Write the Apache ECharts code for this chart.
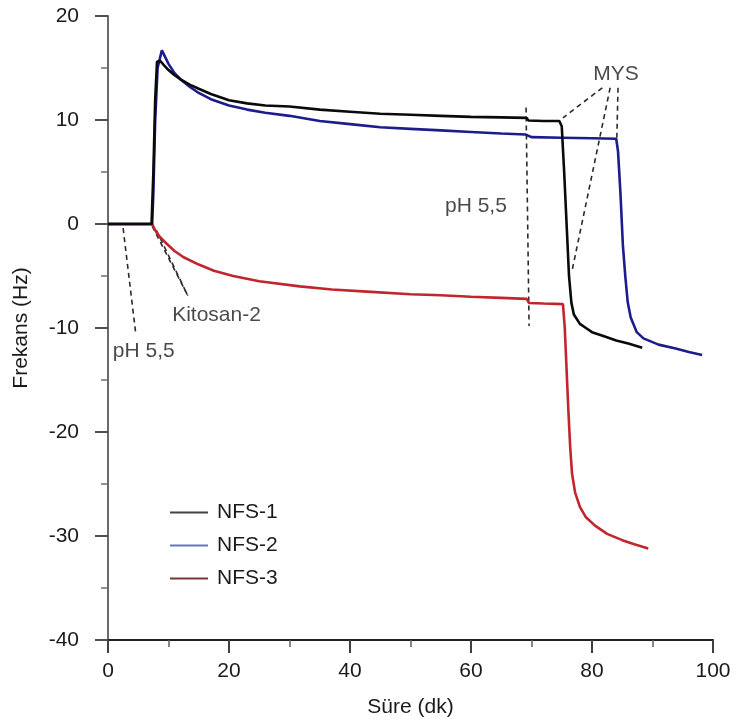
<!DOCTYPE html>
<html>
<head>
<meta charset="utf-8">
<script src="https://cdn.jsdelivr.net/npm/echarts@6/dist/echarts.min.js"></script>
<style>
html,body{margin:0;padding:0;background:#fff;}
#chart{width:738px;height:728px;}
</style>
</head>
<body>
<div id="chart"></div>
<script>
// ---- data ----
const seriesNames = ['NFS-1', 'NFS-2', 'NFS-3'];

const nfs1X = [0, 7.2, 7.5, 7.8, 8.1, 8.6, 9.2, 10, 11, 12, 13.5, 15, 17, 20, 23, 26, 30, 35, 40, 45, 50, 55, 60, 65, 69.2, 69.5, 72, 74.6, 75.0, 75.4, 75.8, 76.2, 76.6, 77, 78, 79, 80, 82, 84, 86, 88.3];
const nfs1Y = [0, 0, 5, 12, 15.6, 15.7, 15.3, 14.8, 14.3, 13.9, 13.4, 13.0, 12.5, 11.9, 11.6, 11.4, 11.3, 11.0, 10.8, 10.6, 10.5, 10.4, 10.3, 10.25, 10.2, 9.95, 9.9, 9.9, 9.4, 5, 0, -5, -7.6, -8.7, -9.6, -10.0, -10.4, -10.8, -11.2, -11.5, -11.9];

const nfs2X = [0, 7.3, 7.5, 7.8, 8.2, 8.9, 9.5, 10, 11, 12, 13.5, 15, 17, 20, 23, 26, 30, 35, 40, 45, 50, 55, 60, 65, 69, 70, 75, 80, 84.0, 84.3, 84.7, 85.1, 85.5, 85.9, 86.4, 87.4, 88.5, 91, 94, 96, 98.2];
const nfs2Y = [0, 0, 3, 10, 15, 16.7, 16.0, 15.4, 14.5, 13.9, 13.2, 12.6, 12.0, 11.4, 11.0, 10.7, 10.4, 9.9, 9.6, 9.3, 9.15, 9.0, 8.85, 8.7, 8.6, 8.35, 8.3, 8.25, 8.2, 7, 3, -2, -5, -7.5, -9, -10.4, -11.0, -11.6, -12.0, -12.3, -12.6];

const nfs3X = [0, 7.3, 7.8, 8.5, 9.7, 11, 12.5, 15, 17.5, 20.7, 25, 31.7, 37, 42.8, 50, 55, 60, 65, 69.2, 69.6, 72, 75.2, 75.5, 75.8, 76.1, 76.4, 76.7, 77.2, 78, 79, 80.5, 82.5, 85, 87, 89.3];
const nfs3Y = [0, 0, -0.6, -1.2, -1.9, -2.6, -3.2, -3.9, -4.5, -5.0, -5.5, -6.0, -6.3, -6.5, -6.75, -6.85, -7.0, -7.1, -7.2, -7.6, -7.65, -7.7, -10, -14, -18, -21.5, -24, -25.8, -27.2, -28.2, -29.0, -29.8, -30.4, -30.8, -31.2];

// annotation dashed segments: [x1, y1, x2, y2]
const annoLines = [
  [2.5, -0.4, 4.6, -10.6],
  [7.3, -0.2, 13.2, -6.9],
  [8.0, -0.6, 13.2, -6.9],
  [69.1, 11.2, 69.6, -9.8],
  [81.7, 13.1, 75.2, 10.2],
  [83.0, 13.1, 76.7, -4.5],
  [84.3, 13.1, 84.1, 8.2]
];
// annotation texts (left edge x, centre y)
const annoTexts = ['pH 5,5', 'Kitosan-2', 'pH 5,5', 'MYS'];
const annoTextX = [0.8, 10.6, 55.7, 80.2];
const annoTextY = [-12.2, -8.8, 1.7, 14.4];

const xTicks = {min: 0, max: 100, interval: 20};
const yTicks = {min: -40, max: 20, interval: 10};

// ---- build ----
function pairs(xs, ys){ return xs.map((x, i) => [x, ys[i]]); }
const lineColors = ['#0a0a0a', '#1c1c8c', '#c0262c'];
const legendColors = ['#444444', '#6474c4', '#7a3434'];
const FONT = 'Liberation Sans, Arial, sans-serif';
const FS = 21;

const dataSeries = [pairs(nfs1X, nfs1Y), pairs(nfs2X, nfs2Y), pairs(nfs3X, nfs3Y)].map((d, i) => ({
  name: seriesNames[i],
  type: 'line',
  data: d,
  showSymbol: false,
  symbol: 'none',
  lineStyle: {color: lineColors[i], width: 2.6},
  itemStyle: {color: lineColors[i]},
  z: 5 - i
}));

const annoSeries = annoLines.map(s => ({
  type: 'line',
  data: [[s[0], s[1]], [s[2], s[3]]],
  symbol: 'none',
  silent: true,
  lineStyle: {color: '#2a2a2a', width: 1.6, type: [5, 4]},
  z: 1
}));

const textSeries = {
  type: 'scatter',
  symbolSize: 0,
  silent: true,
  data: annoTexts.map((t, i) => ({name: t, value: [annoTextX[i], annoTextY[i]]})),
  label: {
    show: true,
    position: 'right',
    distance: 0,
    formatter: p => p.name,
    color: '#1a1a1a',
    fontSize: FS,
    fontFamily: FONT
  },
  z: 10
};

const chart = echarts.init(document.getElementById('chart'), null, {renderer: 'canvas'});
chart.setOption({
  animation: false,
  backgroundColor: '#ffffff',
  grid: {left: 108, right: 25, top: 16, bottom: 88, containLabel: false},
  legend: {
    show: true,
    orient: 'vertical',
    left: 165,
    top: 497,
    icon: 'rect',
    itemWidth: 38,
    itemHeight: 2,
    itemGap: 12,
    data: seriesNames.map((n, i) => ({name: n, itemStyle: {color: legendColors[i]}})),
    textStyle: {fontSize: FS, fontFamily: FONT, color: '#1a1a1a', lineHeight: 21, padding: [0, 0, 0, 4]}
  },
  xAxis: {
    type: 'value',
    min: xTicks.min, max: xTicks.max, interval: xTicks.interval,
    name: 'Süre (dk)',
    nameLocation: 'middle',
    nameGap: 57,
    nameTextStyle: {fontSize: FS, fontFamily: FONT, color: '#1a1a1a'},
    axisLine: {show: true, onZero: false, lineStyle: {color: '#202020', width: 2}},
    axisTick: {show: true, length: 13, lineStyle: {color: '#404040', width: 2}},
    minorTick: {show: true, splitNumber: 2, length: 7, lineStyle: {color: '#606060', width: 1.5}},
    splitLine: {show: false},
    minorSplitLine: {show: false},
    axisLabel: {fontSize: FS, fontFamily: FONT, color: '#1a1a1a', margin: 21}
  },
  yAxis: {
    type: 'value',
    min: yTicks.min, max: yTicks.max, interval: yTicks.interval,
    name: 'Frekans (Hz)',
    nameLocation: 'middle',
    nameGap: 76,
    nameTextStyle: {fontSize: FS, fontFamily: FONT, color: '#1a1a1a'},
    axisLine: {show: true, onZero: false, lineStyle: {color: '#6a6a6a', width: 2}},
    axisTick: {show: true, length: 13, lineStyle: {color: '#505050', width: 2}},
    minorTick: {show: true, splitNumber: 2, length: 7, lineStyle: {color: '#707070', width: 1.5}},
    splitLine: {show: false},
    minorSplitLine: {show: false},
    axisLabel: {fontSize: FS, fontFamily: FONT, color: '#1a1a1a', margin: 29}
  },
  series: dataSeries.concat(annoSeries, [textSeries])
});
</script>
</body>
</html>
